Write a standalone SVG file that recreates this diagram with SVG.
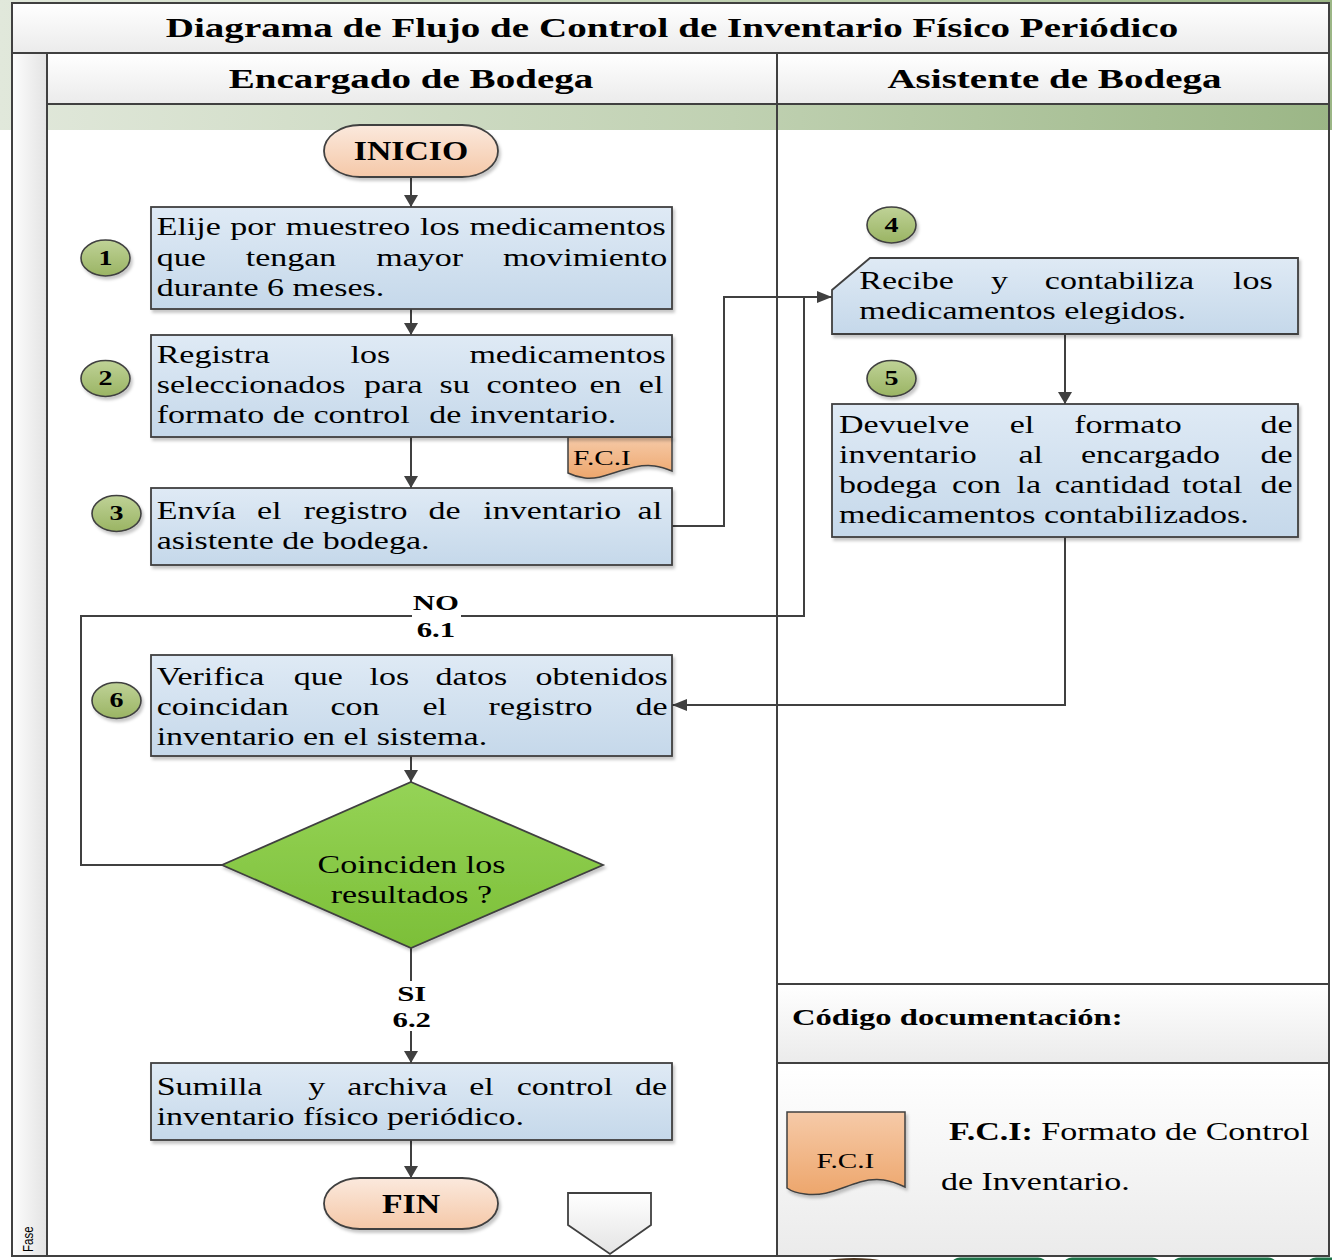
<svg xmlns="http://www.w3.org/2000/svg" width="1332" height="1260" viewBox="0 0 1332 1260">
  <defs>
    <linearGradient id="gBg" x1="0" y1="0" x2="1" y2="0">
      <stop offset="0" stop-color="#e1e8db"/>
      <stop offset="0.55" stop-color="#c0d1b2"/>
      <stop offset="1" stop-color="#9bb686"/>
    </linearGradient>
    <linearGradient id="gCell" x1="0" y1="0" x2="0" y2="1">
      <stop offset="0" stop-color="#ffffff"/>
      <stop offset="1" stop-color="#ebebeb"/>
    </linearGradient>
    <linearGradient id="gCol" x1="0" y1="0" x2="1" y2="0">
      <stop offset="0" stop-color="#fdfdfd"/>
      <stop offset="1" stop-color="#e3e3e3"/>
    </linearGradient>
    <linearGradient id="gBox" x1="0" y1="0" x2="0" y2="1">
      <stop offset="0" stop-color="#dfeaf5"/>
      <stop offset="1" stop-color="#c5d8ea"/>
    </linearGradient>
    <linearGradient id="gNum" x1="0" y1="0" x2="0" y2="1">
      <stop offset="0" stop-color="#bfd297"/>
      <stop offset="1" stop-color="#9ab463"/>
    </linearGradient>
    <linearGradient id="gTerm" x1="0" y1="0" x2="0" y2="1">
      <stop offset="0" stop-color="#fbe9dd"/>
      <stop offset="1" stop-color="#f5c8a8"/>
    </linearGradient>
    <linearGradient id="gDoc" x1="0" y1="0" x2="0" y2="1">
      <stop offset="0" stop-color="#f6caa8"/>
      <stop offset="1" stop-color="#eda66c"/>
    </linearGradient>
    <linearGradient id="gDia" x1="0" y1="0" x2="0" y2="1">
      <stop offset="0" stop-color="#95d356"/>
      <stop offset="1" stop-color="#7cbf38"/>
    </linearGradient>
    <linearGradient id="gOff" x1="0" y1="0" x2="0" y2="1">
      <stop offset="0" stop-color="#ffffff"/>
      <stop offset="1" stop-color="#e4e4e4"/>
    </linearGradient>
    <filter id="sh" x="-10%" y="-10%" width="125%" height="130%">
      <feDropShadow dx="2" dy="3" stdDeviation="1.8" flood-color="#000" flood-opacity="0.22"/>
    </filter>
    <!-- arrowheads: vertical runs are drawn a little wider than horizontal ones -->
    <marker id="av" markerUnits="userSpaceOnUse" viewBox="0 0 12 14" markerWidth="12" markerHeight="14" refX="12" refY="7" orient="auto">
      <path d="M0,0 L12,7 L0,14 Z" fill="#404040"/>
    </marker>
    <marker id="ah" markerUnits="userSpaceOnUse" viewBox="0 0 15 12" markerWidth="15" markerHeight="12" refX="15" refY="6" orient="auto">
      <path d="M0,0 L15,6 L0,12 Z" fill="#404040"/>
    </marker>
    <style>
      .frame { stroke:#404040; stroke-width:2; }
      .ln { fill:none; stroke:#404040; stroke-width:2; }
      .box { fill:url(#gBox); stroke:#404040; stroke-width:1.8; filter:url(#sh); }
      .num { fill:url(#gNum); stroke:#404040; stroke-width:1.6; filter:url(#sh); }
      .term { fill:url(#gTerm); stroke:#404040; stroke-width:1.8; filter:url(#sh); }
      .doc { fill:url(#gDoc); stroke:#404040; stroke-width:1.5; filter:url(#sh); }
      .t { font-family:"Liberation Serif","Times New Roman",serif; font-size:24.3px; fill:#000; }
      .hd { font-family:"Liberation Serif","Times New Roman",serif; font-size:27.9px; font-weight:bold; fill:#000; }
      .lb { font-family:"Liberation Serif","Times New Roman",serif; font-size:22px; font-weight:bold; fill:#000; }
      .nm { font-family:"Liberation Serif","Times New Roman",serif; font-size:20px; font-weight:bold; fill:#000; }
      .tm { font-family:"Liberation Serif","Times New Roman",serif; font-size:27px; font-weight:bold; fill:#000; }
      .sm { font-family:"Liberation Serif","Times New Roman",serif; font-size:20.9px; fill:#000; }
      .b { font-weight:bold; }
      .c { text-anchor:middle; }
    </style>
  </defs>

  <!-- page background -->
  <rect x="0" y="0" width="1332" height="1260" fill="#ffffff"/>
  <rect x="0" y="0" width="1332" height="130" fill="url(#gBg)"/>
  <g id="footer-art">
    <ellipse cx="854" cy="1268" rx="42" ry="10" fill="#4b3621"/>
    <rect x="952" y="1257.5" width="94" height="12" rx="8" fill="#1d7348"/>
    <rect x="1064" y="1257.5" width="96" height="12" rx="8" fill="#1d7348"/>
    <rect x="1173" y="1257.5" width="103" height="12" rx="8" fill="#1d7348"/>
    <rect x="1308" y="1257.5" width="40" height="12" rx="8" fill="#1d7348"/>
  </g>

  <!-- swimlane frame -->
  <g id="pool">
    <rect class="frame" x="12" y="3" width="1317" height="50" fill="url(#gCell)"/>
    <text class="hd c" transform="scale(1.4 1)" x="480" y="37">Diagrama de Flujo de Control de Inventario Físico Periódico</text>
    <rect class="frame" x="12" y="53" width="35" height="1203" fill="url(#gCol)"/>
    <text transform="translate(33 1252) rotate(-90) scale(1 1.33)" x="0" y="0" font-family="'Liberation Sans','Open Sans',sans-serif" font-size="11.5" fill="#000">Fase</text>
  </g>
  <g id="lane-encargado">
    <rect class="frame" x="47" y="53" width="730" height="51" fill="url(#gCell)"/>
    <rect class="frame" x="47" y="104" width="730" height="1152" fill="none"/>
    <text class="hd c" transform="scale(1.4 1)" x="293.6" y="88">Encargado de Bodega</text>
  </g>
  <g id="lane-asistente">
    <rect class="frame" x="777" y="53" width="552" height="51" fill="url(#gCell)"/>
    <rect class="frame" x="777" y="104" width="552" height="880" fill="none"/>
    <text class="hd c" transform="scale(1.4 1)" x="753.2" y="88">Asistente de Bodega</text>
  </g>
  <g id="codigo">
    <rect class="frame" x="777" y="984" width="552" height="79" fill="url(#gCell)"/>
    <text class="t b" style="font-size:23.3px" transform="scale(1.4 1)" x="565.7" y="1025">Código documentación:</text>
  </g>
  <g id="legend">
    <rect class="frame" x="777" y="1063" width="552" height="193" fill="url(#gCell)"/>
    <path class="doc" d="M787,1112 H905 V1187 C890,1180 878,1177 860,1182 C840,1188 825,1197 805,1194 C796,1193 791,1191 787,1188 Z"/>
    <text class="sm c" transform="scale(1.4 1)" x="603.9" y="1168">F.C.I</text>
    <text class="t" transform="scale(1.4 1)" x="677.9" y="1140"><tspan class="b">F.C.I:</tspan> Formato de Control</text>
    <text class="t" transform="scale(1.4 1)" x="672.1" y="1190">de Inventario.</text>
  </g>

  <!-- connectors -->
  <g id="connectors">
    <path class="ln" d="M411,177 V207" marker-end="url(#av)"/>
    <path class="ln" d="M411,309 V335" marker-end="url(#av)"/>
    <path class="ln" d="M411,437 V488" marker-end="url(#av)"/>
    <path class="ln" d="M672,526 H724 V297 H832" marker-end="url(#ah)"/>
    <path class="ln" d="M1065,334 V404" marker-end="url(#av)"/>
    <path class="ln" d="M1065,537 V705 H672" marker-end="url(#ah)"/>
    <path class="ln" d="M411,756 V782" marker-end="url(#av)"/>
    <path class="ln" d="M222,865 H81 V616 H804 V297"/>
    <path class="ln" d="M411,948 V1063" marker-end="url(#av)"/>
    <path class="ln" d="M411,1140 V1178" marker-end="url(#av)"/>
    <g id="label-no">
      <rect x="412" y="592" width="49" height="48" fill="#ffffff"/>
      <text class="lb c" transform="scale(1.4 1)" x="311.4" y="610">NO</text>
      <text class="lb c" transform="scale(1.4 1)" x="311.4" y="637">6.1</text>
    </g>
    <g id="label-si">
      <rect x="393" y="981" width="38" height="50" fill="#ffffff"/>
      <text class="lb c" transform="scale(1.4 1)" x="294.1" y="1001">SI</text>
      <text class="lb c" transform="scale(1.4 1)" x="294.1" y="1027">6.2</text>
    </g>
  </g>

  <!-- start -->
  <g id="inicio">
    <rect class="term" x="324" y="125" width="174" height="52" rx="36" ry="26"/>
    <text class="tm c" transform="scale(1.25 1)" x="328.8" y="160">INICIO</text>
  </g>

  <!-- step 1 -->
  <g id="paso-1">
    <rect class="box" x="151" y="207" width="521" height="102"/>
    <text class="t" transform="scale(1.4 1)" y="235"><tspan x="111.9">Elije</tspan> <tspan x="164.4">por</tspan> <tspan x="204.1">muestreo</tspan> <tspan x="300">los</tspan> <tspan x="335.3">medicamentos</tspan></text>
    <text class="t" transform="scale(1.4 1)" y="266"><tspan x="111.9">que</tspan> <tspan x="175.5">tengan</tspan> <tspan x="268.8">mayor</tspan> <tspan x="359.2">movimiento</tspan></text>
    <text class="t" transform="scale(1.4 1)" x="111.9" y="296">durante 6 meses.</text>
  </g>
  <g id="num-1">
    <ellipse class="num" cx="105.5" cy="258" rx="24.5" ry="18"/>
    <text class="nm c" transform="scale(1.4 1)" x="75.4" y="265">1</text>
  </g>

  <!-- step 2 -->
  <g id="doc-fci">
    <path class="doc" d="M568,437 H672 V471 C660,466 650,464 635,467 C615,471 600,480 585,478 C577,477 572,475 568,473 Z"/>
    <text class="sm" transform="scale(1.4 1)" x="409.3" y="465">F.C.I</text>
  </g>
  <g id="paso-2">
    <rect class="box" x="151" y="335" width="521" height="102"/>
    <text class="t" transform="scale(1.4 1)" y="363"><tspan x="111.9">Registra</tspan> <tspan x="250.4">los</tspan> <tspan x="335.3">medicamentos</tspan></text>
    <text class="t" transform="scale(1.4 1)" y="393"><tspan x="111.9">seleccionados</tspan> <tspan x="260">para</tspan> <tspan x="314">su</tspan> <tspan x="347.5">conteo</tspan> <tspan x="421">en</tspan> <tspan x="456.3">el</tspan></text>
    <text class="t" transform="scale(1.4 1)" y="423"><tspan x="111.9">formato de control</tspan> <tspan x="306.7">de inventario.</tspan></text>
  </g>
  <g id="num-2">
    <ellipse class="num" cx="105.5" cy="378.5" rx="24.5" ry="18"/>
    <text class="nm c" transform="scale(1.4 1)" x="75.4" y="385.5">2</text>
  </g>

  <!-- step 3 -->
  <g id="paso-3">
    <rect class="box" x="151" y="488" width="521" height="77"/>
    <text class="t" transform="scale(1.4 1)" y="519"><tspan x="111.9">Envía</tspan> <tspan x="183.6">el</tspan> <tspan x="216.9">registro</tspan> <tspan x="306.1">de</tspan> <tspan x="345.2">inventario</tspan> <tspan x="455.4">al</tspan></text>
    <text class="t" transform="scale(1.4 1)" x="111.9" y="549">asistente de bodega.</text>
  </g>
  <g id="num-3">
    <ellipse class="num" cx="116.5" cy="513.5" rx="24.5" ry="18"/>
    <text class="nm c" transform="scale(1.4 1)" x="83.2" y="520.5">3</text>
  </g>

  <!-- step 4 -->
  <g id="paso-4">
    <path class="box" d="M870,258 H1298 V334 H832 V290 Z"/>
    <text class="t" transform="scale(1.4 1)" y="289"><tspan x="613.8">Recibe</tspan> <tspan x="707.9">y</tspan> <tspan x="746.3">contabiliza</tspan> <tspan x="880.7">los</tspan></text>
    <text class="t" transform="scale(1.4 1)" x="613.8" y="319">medicamentos elegidos.</text>
  </g>
  <g id="num-4">
    <ellipse class="num" cx="891.5" cy="225" rx="24.5" ry="18"/>
    <text class="nm c" transform="scale(1.4 1)" x="636.8" y="232">4</text>
  </g>

  <!-- step 5 -->
  <g id="paso-5">
    <rect class="box" x="832" y="404" width="466" height="133"/>
    <text class="t" transform="scale(1.4 1)" y="433"><tspan x="599.3">Devuelve</tspan> <tspan x="721.2">el</tspan> <tspan x="767.3">formato</tspan> <tspan x="900.4">de</tspan></text>
    <text class="t" transform="scale(1.4 1)" y="463"><tspan x="599.3">inventario</tspan> <tspan x="727.5">al</tspan> <tspan x="772.1">encargado</tspan> <tspan x="900.4">de</tspan></text>
    <text class="t" transform="scale(1.4 1)" y="493"><tspan x="599.3">bodega</tspan> <tspan x="680">con</tspan> <tspan x="726.1">la</tspan> <tspan x="753.4">cantidad</tspan> <tspan x="844.3">total</tspan> <tspan x="900.4">de</tspan></text>
    <text class="t" transform="scale(1.4 1)" x="599.3" y="523">medicamentos contabilizados.</text>
  </g>
  <g id="num-5">
    <ellipse class="num" cx="891.5" cy="378.5" rx="24.5" ry="18"/>
    <text class="nm c" transform="scale(1.4 1)" x="636.8" y="385.5">5</text>
  </g>

  <!-- step 6 -->
  <g id="paso-6">
    <rect class="box" x="151" y="655" width="521" height="101"/>
    <text class="t" transform="scale(1.4 1)" y="685"><tspan x="111.9">Verifica</tspan> <tspan x="209.9">que</tspan> <tspan x="263.9">los</tspan> <tspan x="311.1">datos</tspan> <tspan x="382.5">obtenidos</tspan></text>
    <text class="t" transform="scale(1.4 1)" y="715"><tspan x="111.9">coincidan</tspan> <tspan x="236.1">con</tspan> <tspan x="301.7">el</tspan> <tspan x="349">registro</tspan> <tspan x="453.9">de</tspan></text>
    <text class="t" transform="scale(1.4 1)" x="111.9" y="745">inventario en el sistema.</text>
  </g>
  <g id="num-6">
    <ellipse class="num" cx="116.5" cy="700.5" rx="24.5" ry="18"/>
    <text class="nm c" transform="scale(1.4 1)" x="83.2" y="707.5">6</text>
  </g>

  <!-- decision -->
  <g id="decision">
    <path d="M411,782 L603,865 L411,948 L222,865 Z" fill="url(#gDia)" stroke="#404040" stroke-width="1.8" filter="url(#sh)"/>
    <text class="t c" transform="scale(1.4 1)" x="293.9" y="873">Coinciden los</text>
    <text class="t c" transform="scale(1.4 1)" x="293.9" y="903">resultados ?</text>
  </g>

  <!-- step 6.2 -->
  <g id="paso-7">
    <rect class="box" x="151" y="1063" width="521" height="77"/>
    <text class="t" transform="scale(1.4 1)" y="1095"><tspan x="111.9">Sumilla</tspan> <tspan x="220.2">y</tspan> <tspan x="248.1">archiva</tspan> <tspan x="335.2">el</tspan> <tspan x="369.1">control</tspan> <tspan x="453.6">de</tspan></text>
    <text class="t" transform="scale(1.4 1)" x="111.9" y="1125">inventario físico periódico.</text>
  </g>

  <!-- end -->
  <g id="fin">
    <rect class="term" x="324" y="1178" width="174" height="51" rx="36" ry="25.5"/>
    <text class="tm c" transform="scale(1.25 1)" x="328.8" y="1213">FIN</text>
  </g>

  <!-- off-page connector -->
  <g id="conector-pagina">
    <path d="M568,1193 H651 V1225 L610,1254 L568,1225 Z" fill="url(#gOff)" stroke="#404040" stroke-width="1.8"/>
  </g>
</svg>
